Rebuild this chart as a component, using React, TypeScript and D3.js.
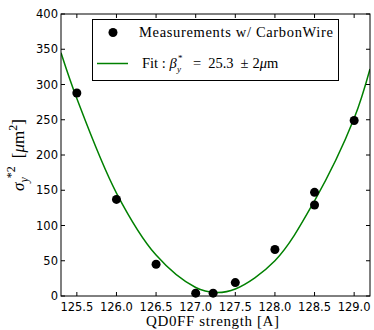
import * as d3 from 'd3';

// measured points (QD0FF current vs beam size squared)
const measX = [125.5, 126.0, 126.5, 127.0, 127.22, 127.5, 128.0, 128.5, 128.5, 129.0];
const measY = [288, 137, 45, 4, 4, 19, 66, 147, 129, 249];

// fit curve
const fitX = [125.3, 125.5, 126.0, 126.5, 127.0, 127.25, 127.5, 128.0, 128.5, 129.0, 129.2];
const fitY = [345, 280, 146, 58, 12, 5, 10, 50, 135, 252, 322];

const xTicks = [125.5, 126.0, 126.5, 127.0, 127.5, 128.0, 128.5, 129.0];
const yTicks = [0, 50, 100, 150, 200, 250, 300, 350, 400];

const W = 374;
const H = 330;
const margin = { top: 14, right: 4, bottom: 34, left: 61 };

export default function App() {
  const x = d3.scaleLinear().domain([125.3, 129.2]).range([margin.left, W - margin.right]);
  const y = d3.scaleLinear().domain([0, 400]).range([H - margin.bottom, margin.top]);

  const line = d3.line<[number, number]>()
    .x(d => x(d[0]))
    .y(d => y(d[1]))
    .curve(d3.curveCatmullRom);
  const fitPts: [number, number][] = fitX.map((v, i) => [v, fitY[i]]);

  const x0 = margin.left, x1 = W - margin.right;
  const y0 = H - margin.bottom, y1 = margin.top;
  const tick = 4;
  const serif = "'Liberation Serif', serif";
  const sans = "'DejaVu Sans', sans-serif";

  return (
    <svg width={W} height={H} style={{ position: 'absolute', left: 0, top: 0, background: '#fff' }}>
      <defs>
        <clipPath id="plot">
          <rect x={x0} y={y1} width={x1 - x0} height={y0 - y1} />
        </clipPath>
      </defs>

      {/* fit line */}
      <path d={line(fitPts) || ''} fill="none" stroke="#008000" strokeWidth={1.5} clipPath="url(#plot)" />

      {/* measurements */}
      {measX.map((v, i) => (
        <circle key={i} cx={x(v)} cy={y(measY[i])} r={4.5} fill="#000" />
      ))}

      {/* frame */}
      <rect x={x0} y={y1} width={x1 - x0} height={y0 - y1} fill="none" stroke="#000" strokeWidth={1} />

      {/* x ticks */}
      {xTicks.map(t => (
        <g key={t}>
          <line x1={x(t)} x2={x(t)} y1={y0} y2={y0 - tick} stroke="#000" />
          <line x1={x(t)} x2={x(t)} y1={y1} y2={y1 + tick} stroke="#000" />
          <text x={x(t)} y={y0 + 15} textAnchor="middle" fontFamily={sans} fontSize={11.5}>{t.toFixed(1)}</text>
        </g>
      ))}

      {/* y ticks */}
      {yTicks.map(t => (
        <g key={t}>
          <line x1={x0} x2={x0 + tick} y1={y(t)} y2={y(t)} stroke="#000" />
          <line x1={x1} x2={x1 - tick} y1={y(t)} y2={y(t)} stroke="#000" />
          <text x={x0 - 3} y={y(t) + 4} textAnchor="end" fontFamily={sans} fontSize={11.5}>{t}</text>
        </g>
      ))}

      {/* axis titles */}
      <text x={212.5} y={H - 4} textAnchor="middle" fontFamily={serif} fontSize={15} textLength={133} lengthAdjust="spacing">QD0FF strength [A]</text>
      <g transform={`translate(24,155) rotate(-90)`}>
        <text textAnchor="middle" fontFamily={serif} fontSize={17}>
          <tspan fontStyle="italic">σ</tspan>
          <tspan fontStyle="italic" fontSize={12} dy={4}>y</tspan>
          <tspan fontSize={12} dx={-1} dy={-13}>*2</tspan>
          <tspan dy={9} dx={8}>[</tspan>
          <tspan fontStyle="italic">μ</tspan>
          <tspan>m</tspan>
          <tspan fontSize={12} dy={-7}>2</tspan>
          <tspan dy={7}>]</tspan>
        </text>
      </g>

      {/* legend */}
      <rect x={92.5} y={19.5} width={246} height={61} fill="#fff" stroke="#000" strokeWidth={1} />
      <circle cx={113} cy={32.5} r={4.5} fill="#000" />
      <text x={139} y={37} fontFamily={serif} fontSize={14.5} textLength={194} lengthAdjust="spacing">Measurements w/ CarbonWire</text>
      <line x1={97} x2={128} y1={63.5} y2={63.5} stroke="#008000" strokeWidth={1.5} />
      <text x={142} y={68} fontFamily={serif} fontSize={14.5}>
        <tspan>Fit : </tspan>
        <tspan fontStyle="italic">β</tspan>
      </text>
      <text x={178} y={61} fontFamily={serif} fontSize={9}>*</text>
      <text x={177} y={72} fontFamily={serif} fontSize={9} fontStyle="italic">y</text>
      <text x={193} y={68} fontFamily={serif} fontSize={14.5}>
        <tspan>=</tspan>
        <tspan dx={7}>25.3</tspan>
        <tspan dx={7}>±</tspan>
        <tspan dx={4}>2</tspan>
        <tspan fontStyle="italic">μ</tspan>
        <tspan>m</tspan>
      </text>
    </svg>
  );
}
